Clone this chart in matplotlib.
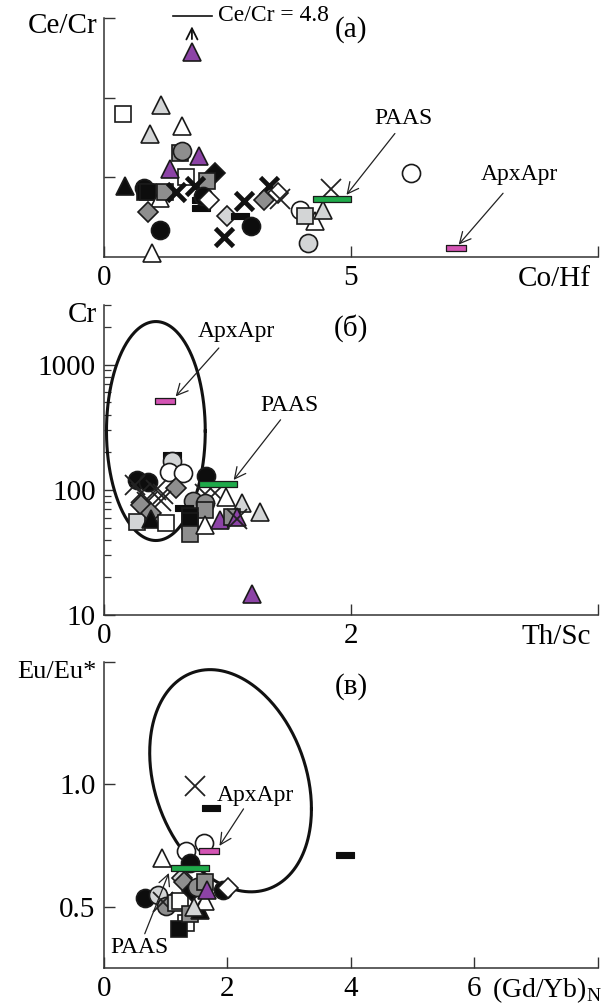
import numpy as np
import matplotlib
matplotlib.use('Agg')
import matplotlib.pyplot as plt

plt.rcParams['font.family'] = ['Liberation Serif', 'DejaVu Serif']
plt.rcParams['font.size'] = 20
plt.rcParams['mathtext.fontset'] = 'custom'
plt.rcParams['mathtext.rm'] = 'Liberation Serif'

# ---- data ----
# panel (a): Co/Hf vs Ce/Cr (y in tick units 0..3)
a_x = [0.38, 1.16, 1.57, 0.93, 1.53, 1.57, 1.92, 1.65, 1.33, 2.24, 2.08, 0.43, 0.80, 0.82, 0.90,
       1.14, 1.24, 1.45, 1.84, 1.96, 1.96, 2.00, 2.12, 0.89, 1.14, 0.97, 2.50, 2.75, 2.83, 2.97,
       2.43, 3.35, 3.24, 3.53, 3.57, 3.96, 4.28, 4.07, 4.43, 4.14, 4.59, 6.22, 1.78]
a_y = [1.79, 1.91, 1.64, 1.54, 1.30, 1.33, 1.27, 1.01, 1.10, 1.05, 0.95, 0.89, 0.87, 0.81, 0.81,
       0.74, 0.81, 0.82, 0.89, 0.71, 0.62, 0.76, 0.72, 0.56, 0.34, 0.05, 0.52, 0.51, 0.70, 0.39,
       0.25, 0.89, 0.71, 0.80, 0.73, 0.59, 0.45, 0.52, 0.59, 0.18, 0.85, 1.05, 2.57]
a_sym = ['ws', 'l^', 'w^', 'l^', 'gs', 'go', 'p^', 'ws', 'p^', 'kD', 'gs', 'k^', 'ko', 'ks', 'ks',
         'w^', 'gs', 'X', 'X', '-', '-', 'ko', 'wD', 'gD', 'ko', 'w^', 'lD', '-', 'X', 'ko',
         'X', 'X', 'gD', 'wD', 'x', 'wo', 'w^', 'ls', 'l^', 'lo', 'x', 'wo', 'p^']
a_paas = (4.62, 0.73)
a_arch = (7.12, 0.11)

# panel (б): Th/Sc vs Cr
b_x = [0.55, 0.55, 0.53, 0.64, 0.27, 0.36, 0.25, 0.30, 0.42, 0.48, 0.58, 0.35, 0.46, 0.30, 0.83,
       0.82, 0.90, 0.99, 0.72, 0.82, 0.82, 0.65, 0.27, 0.38, 0.38, 0.50, 0.70, 0.70, 0.70, 0.82,
       1.12, 1.26, 0.94, 1.04, 1.08, 1.08, 1.20]
b_y = [190, 169, 140, 136, 120, 115, 110, 95, 100, 92, 103, 80, 82, 75, 128,
       93, 95, 88, 81, 78, 69, 71, 55, 65, 59, 54, 62, 56, 44, 52,
       78, 67, 57, 61, 61, 58, 14.7]
b_sym = ['-', 'lo', 'wo', 'wo', 'ko', 'ko', 'x', 'x', 'x', 'x', 'gD', 'x', 'x', 'gD', 'ko',
         'x', 'x', 'w^', 'go', 'go', 'gs', '-', 'ls', 'gD', 'k^', 'ws', 'ks', 'ks', 'gs', 'w^',
         'l^', 'l^', 'p^', 'gs', 'p^', 'x', 'p^']
b_paas = (0.92, 111)
b_arch = (0.49, 509)

# panel (в): (Gd/Yb)N vs Eu/Eu*
c_x = [1.47, 1.73, 3.90, 1.62, 1.32, 0.94, 1.40, 0.66, 0.88, 1.01, 0.95, 1.16, 1.23, 1.32, 1.21,
       1.40, 1.55, 1.64, 1.26, 1.30, 1.42, 1.50, 1.64, 1.67, 1.92, 2.01, 1.45]
c_y = [0.992, 0.905, 0.712, 0.76, 0.73, 0.70, 0.68, 0.536, 0.55, 0.503, 0.52, 0.516, 0.523, 0.435, 0.408,
       0.47, 0.489, 0.523, 0.618, 0.60, 0.566, 0.58, 0.601, 0.57, 0.57, 0.577, 0.50]
c_sym = ['x', '-', '-', 'wo', 'wo', 'w^', 'ko', 'ko', 'lo', 'go', 'x', 'ls', 'ws', 'ws', 'ks',
         'gs', 'k^', 'w^', 'lD', 'gD', 'kD', 'go', 'gs', 'p^', 'ko', 'wD', 'l^']
c_paas = (1.40, 0.658)
c_arch = (1.70, 0.728)

# ---- styles ----
FILL = {'k': '#0d0d0d', 'g': '#8e8e8e', 'l': '#d3d5d6', 'w': 'white', 'p': '#8c43a6'}
MSIZE = {'o': 13, 's': 12, '^': 13, 'D': 10}
BAR = [(-1, -0.3), (1, -0.3), (1, 0.3), (-1, 0.3), (-1, -0.3)]
PAAS_M = [(-1, -0.18), (1, -0.18), (1, 0.18), (-1, 0.18), (-1, -0.18)]
ARCH_M = [(-1, -0.33), (1, -0.33), (1, 0.33), (-1, 0.33), (-1, -0.33)]


def draw_points(ax, xs, ys, syms):
    for x, y, s in zip(xs, ys, syms):
        if s == 'X':
            ax.plot(x, y, marker='x', ms=13, mew=3.4, color='#111111', ls='none', zorder=3, clip_on=False)
        elif s == 'x':
            ax.plot(x, y, marker='x', ms=14, mew=1.3, color='#222222', ls='none', zorder=3, clip_on=False)
        elif s == '-':
            ax.plot(x, y, marker=BAR, ms=13, mew=0.8, mfc='#0d0d0d', mec='#0d0d0d', ls='none',
                    zorder=3, clip_on=False)
        else:
            ax.plot(x, y, marker=s[1], ms=MSIZE[s[1]], mfc=FILL[s[0]], mec='#1a1a1a',
                    mew=1.2, ls='none', zorder=3, clip_on=False)


def draw_refs(ax, paas, arch):
    ax.plot(*paas, marker=PAAS_M, ms=28, mfc='#1faa4a', mec='#1a1a1a', mew=0.9, ls='none', zorder=4)
    ax.plot(*arch, marker=ARCH_M, ms=15, mfc='#d454b4', mec='#1a1a1a', mew=0.9, ls='none', zorder=4)


def style_axes(ax):
    for side in ['top', 'right']:
        ax.spines[side].set_visible(False)
    for side in ['left', 'bottom']:
        ax.spines[side].set_linewidth(1.1)
        ax.spines[side].set_color('#333333')
    ax.tick_params(which='major', direction='in', length=8, width=1.0, color='#333333', pad=6,
                   labelsize=21)
    ax.tick_params(which='minor', direction='in', length=5, width=0.9, color='#333333')


def corner_label(ax, text, ypos, size=21):
    ax.annotate(text, xy=(0, ypos), xycoords='axes fraction', xytext=(-5, 0),
                textcoords='offset points', ha='right', va='center', fontsize=size)


def x_name(ax, text, size=21, dx=-5):
    ax.annotate(text, xy=(1, 0), xycoords='axes fraction', xytext=(dx, -21),
                textcoords='offset points', ha='right', va='baseline', fontsize=size)


arrow = dict(arrowstyle='->', lw=0.9, color='#222222', shrinkA=0, shrinkB=0)
lbl = dict(fontsize=17, ha='center', va='center')

fig = plt.figure(figsize=(6.03, 10.05), dpi=100)
L, W = 0.1725, 0.819
ax_a = fig.add_axes([L, 0.7443, W, 0.2378])
ax_b = fig.add_axes([L, 0.3881, W, 0.3084])
ax_c = fig.add_axes([L, 0.0368, W, 0.3045])

# ---- panel (a) ----
ax = ax_a
style_axes(ax)
ax.set_xlim(0, 10)
ax.set_ylim(0, 3)
ax.set_xticks([0, 5, 10])
ax.set_xticklabels(['0', '5', ''])
ax.set_yticks([1, 2, 3])
ax.set_yticklabels([])
draw_points(ax, a_x, a_y, a_sym)
draw_refs(ax, a_paas, a_arch)
ax.annotate('', xy=(1.78, 2.93), xytext=(1.78, 2.70), arrowprops=dict(arrowstyle='->', lw=1.3, color='#111111'))
ax.plot([1.39, 2.18], [3.03, 3.03], color='#111111', lw=1.2, clip_on=False)
ax.text(2.30, 3.03, 'Ce/Cr = 4.8', fontsize=17, va='center', ha='left')
ax.text(5.0, 2.86, '(a)', fontsize=21, ha='center', va='center')
ax.text(6.06, 1.74, 'PAAS', **lbl)
ax.annotate('', xy=(4.91, 0.78), xytext=(5.89, 1.55), arrowprops=arrow)
ax.text(8.42, 1.03, 'ApxApr', **lbl)
ax.annotate('', xy=(7.18, 0.155), xytext=(8.08, 0.80), arrowprops=arrow)
corner_label(ax, 'Ce/Cr', 0.967)
x_name(ax, 'Co/Hf')

# ---- panel (б) ----
ax = ax_b
style_axes(ax)
ax.set_yscale('log')
ax.set_xlim(0, 4)
ax.set_ylim(10, 3000)
ax.set_xticks([0, 2, 4])
ax.set_xticklabels(['0', '2', ''])
ax.set_yticks([10, 100, 1000])
ax.set_yticklabels(['10', '100', '1000'])
t = np.linspace(0, 2 * np.pi, 300)
ax.plot(0.42 + 0.40 * np.cos(t), 10 ** (2.47 + 0.875 * np.sin(t)), color='#111111', lw=2.2, zorder=2)
draw_points(ax, b_x, b_y, b_sym)
draw_refs(ax, b_paas, b_arch)
ax.text(2.0, 1965, '(б)', fontsize=21, ha='center', va='center')
ax.text(1.07, 1848, 'ApxApr', **lbl)
ax.annotate('', xy=(0.58, 558), xytext=(0.93, 1360), arrowprops=arrow)
ax.text(1.50, 470, 'PAAS', **lbl)
ax.annotate('', xy=(1.05, 120), xytext=(1.43, 363), arrowprops=arrow)
corner_label(ax, 'Cr', 0.968)
x_name(ax, 'Th/Sc')

# ---- panel (в) ----
ax = ax_c
style_axes(ax)
ax.set_xlim(0, 8)
ax.set_ylim(0.25, 1.5)
ax.set_xticks([0, 2, 4, 6, 8])
ax.set_xticklabels(['0', '2', '4', '6', ''])
ax.set_yticks([0.5, 1.0, 1.5])
ax.set_yticklabels(['0.5', '1.0', ''])
ax.plot(2.05 + 1.31 * np.cos(t), 1.015 - 0.115 * np.cos(t) + 0.439 * np.sin(t),
        color='#111111', lw=2.2, zorder=2)
draw_points(ax, c_x, c_y, c_sym)
draw_refs(ax, c_paas, c_arch)
ax.text(4.0, 1.40, '(в)', fontsize=21, ha='center', va='center')
ax.text(2.45, 0.955, 'ApxApr', **lbl)
ax.annotate('', xy=(1.87, 0.749), xytext=(2.26, 0.90), arrowprops=arrow)
ax.text(0.57, 0.334, 'PAAS', **lbl)
ax.annotate('', xy=(1.05, 0.638), xytext=(0.66, 0.39), arrowprops=arrow)
corner_label(ax, 'Eu/Eu*', 0.968, size=19)
x_name(ax, r'(Gd/Yb)$_\mathregular{N}$', size=20, dx=3)

fig.savefig('out.png', dpi=100)
